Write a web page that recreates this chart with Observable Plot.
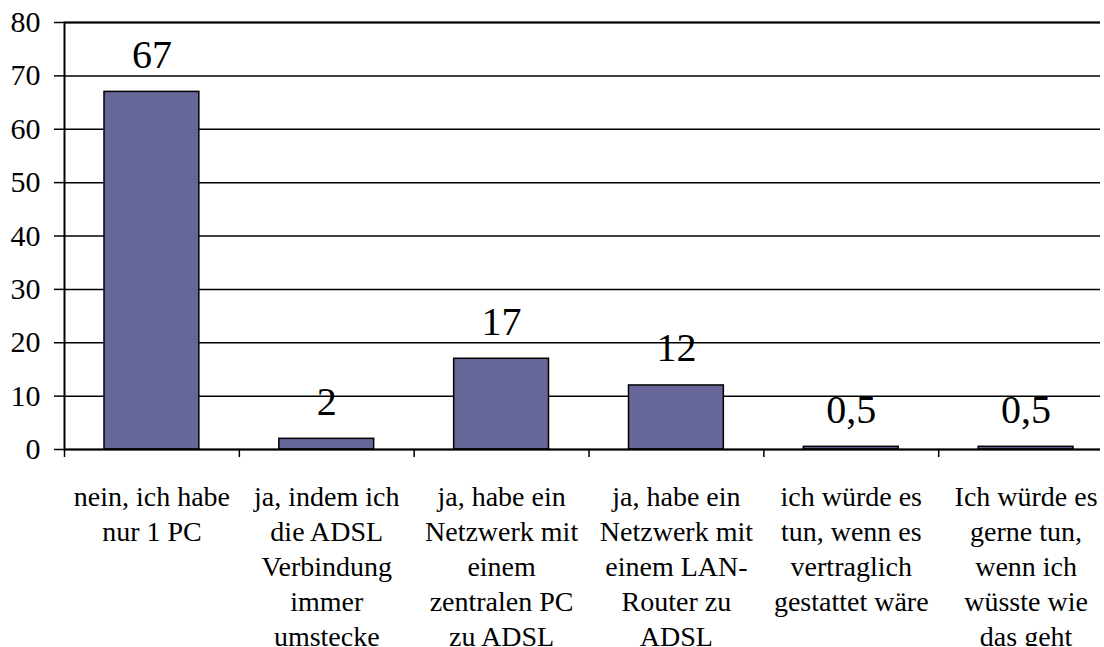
<!DOCTYPE html>
<html><head><meta charset="utf-8">
<script src="https://cdn.jsdelivr.net/npm/d3@7"></script>
<script src="https://cdn.jsdelivr.net/npm/@observablehq/plot@0.6"></script>
<style>
body{margin:0;padding:0;background:#fff;font-family:"Liberation Serif","Times New Roman",serif}
</style>
</head><body><div id="chart"></div>
<script>
const categories = [
  "nein, ich habe\nnur 1 PC",
  "ja, indem ich\ndie ADSL\nVerbindung\nimmer\numstecke",
  "ja, habe ein\nNetzwerk mit\neinem\nzentralen PC\nzu ADSL",
  "ja, habe ein\nNetzwerk mit\neinem LAN-\nRouter zu\nADSL",
  "ich würde es\ntun, wenn es\nvertraglich\ngestattet wäre",
  "Ich würde es\ngerne tun,\nwenn ich\nwüsste wie\ndas geht"
];
const values = [67, 2, 17, 12, 0.5, 0.5];
const valueLabels = ["67", "2", "17", "12", "0,5", "0,5"];
const yTicks = [0, 10, 20, 30, 40, 50, 60, 70, 80];

const data = categories.map((c, i) => ({category: c, value: values[i], label: valueLabels[i]}));

const chart = Plot.plot({
  width: 1100, height: 646,
  marginLeft: 64, marginRight: -13, marginTop: 22, marginBottom: 197,
  style: {fontFamily: "Liberation Serif", fontSize: "28px"},
  x: {domain: categories, padding: 0, round: false},
  y: {domain: [0, 80]},
  marks: [
    Plot.gridY(yTicks, {stroke: "black", strokeOpacity: 1, strokeWidth: 1.5}),
    Plot.barY(data, {x: "category", y: "value", fill: "#666699", stroke: "black", strokeWidth: 1.5, insetLeft: 40, insetRight: 40}),
    Plot.text(data, {x: "category", y: "value", text: "label", fontSize: 40, lineAnchor: "bottom", dy: -24, fill: "black"}),
    Plot.ruleX(data, {x: "category", y1: 0, y2: 0, insetBottom: -8, dx: -87.4, stroke: "black", strokeWidth: 1.5}),
    Plot.axisY({ticks: yTicks, tickSize: 10, tickPadding: 14, fontSize: 30, label: null, strokeWidth: 1.5, color: "black"}),
    Plot.axisX({tickSize: 0, tickPadding: 32, fontSize: 28, lineHeight: 1.25, label: null, color: "black"}),
    Plot.frame({stroke: "black", strokeWidth: 2})
  ]
});
document.getElementById("chart").appendChild(chart);
</script>
</body></html>
